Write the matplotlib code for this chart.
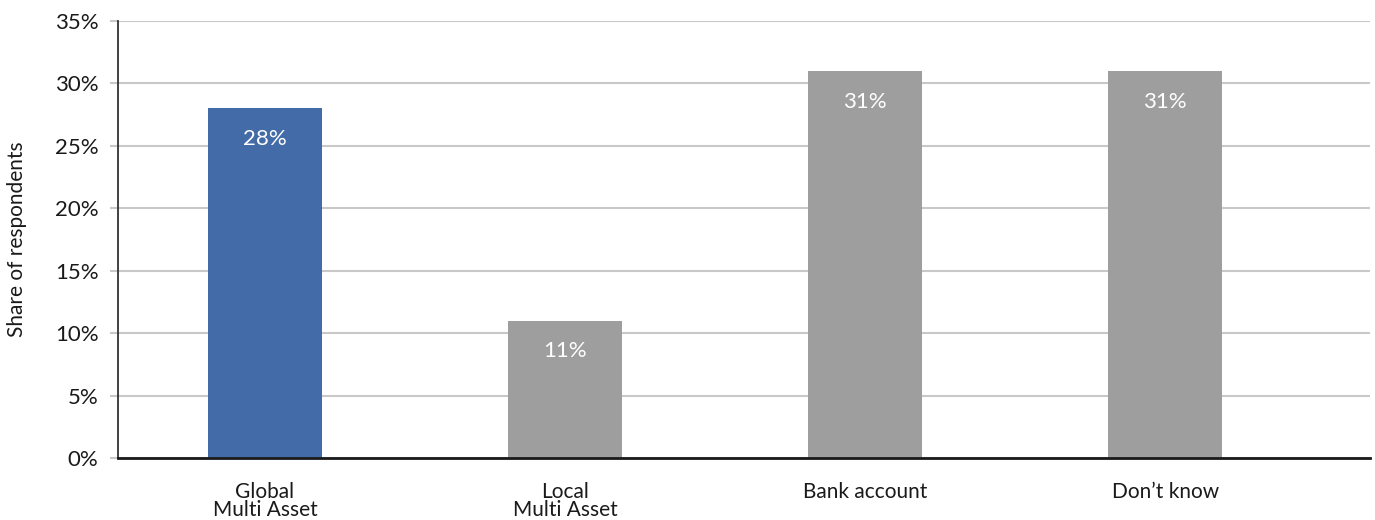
import matplotlib.pyplot as plt
from matplotlib.ticker import PercentFormatter

plt.rcParams["font.family"] = ["Lato", "DejaVu Sans"]

categories = ["Global\nMulti Asset", "Local\nMulti Asset", "Bank account", "Don\u2019t know"]
shares = [28, 11, 31, 31]
bar_colors = ["#436BA8", "#9D9E9D", "#9D9E9D", "#9D9E9D"]

fig = plt.figure(figsize=(13.75, 5.2), dpi=100)
ax = fig.add_axes([0.0858, 0.1192, 0.9106, 0.8404])

x = list(range(len(categories)))
bars = ax.bar(x, shares, width=0.38, color=bar_colors, zorder=3)

for rect, val in zip(bars, shares):
    ax.annotate(f"{val}%", (rect.get_x() + rect.get_width() / 2, val),
                xytext=(0, -22), textcoords="offset points",
                ha="center", va="center", color="white", fontsize=16, zorder=4)

ax.set_xlim(-0.49, 3.683)
ax.set_ylim(0, 35)
ax.set_yticks(range(0, 36, 5))
ax.yaxis.set_major_formatter(PercentFormatter(decimals=0))
ax.set_xticks(x)
ax.set_xticklabels(categories, fontsize=15, linespacing=0.92, va="top")
ax.tick_params(axis="x", length=0, pad=17, colors="#1a1a1a")
ax.tick_params(axis="y", length=6, width=1.5, color="#c8c8c8", labelsize=16,
               labelcolor="#1a1a1a", pad=8)

ax.grid(axis="y", color="#c8c8c8", linewidth=1.5, zorder=0)
for side in ("top", "right"):
    ax.spines[side].set_visible(False)
ax.spines["left"].set_color("#333333")
ax.spines["left"].set_linewidth(1.3)
ax.spines["bottom"].set_color("#1a1a1a")
ax.spines["bottom"].set_linewidth(2)
ax.spines["bottom"].set_zorder(5)

ax.set_ylabel("Share of respondents", fontsize=15, color="#1a1a1a", labelpad=20)

fig.savefig("out.png", dpi=100)
